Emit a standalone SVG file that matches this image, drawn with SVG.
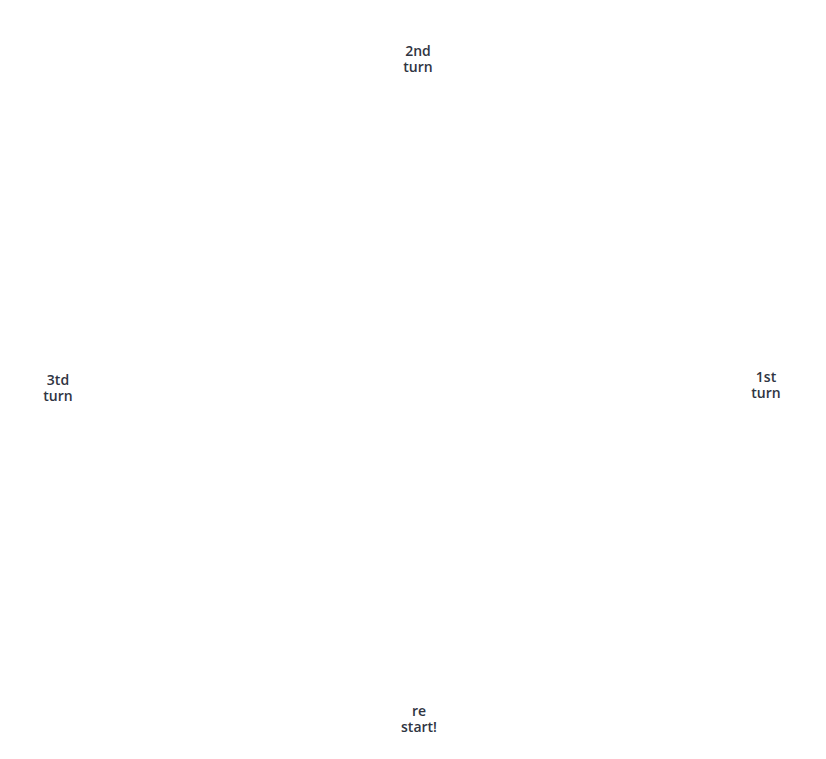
<svg xmlns="http://www.w3.org/2000/svg" width="826" height="759" viewBox="0 0 826 759">
<style>
.lbl{font-family:"Open Sans","Liberation Sans",sans-serif;font-size:14px;font-weight:600;fill:#2f3542;text-anchor:middle}
</style>
<rect width="826" height="759" fill="#ffffff"/>
<g id="node-2nd"><text class="lbl" x="418" y="56">2nd</text><text class="lbl" x="418" y="72">turn</text></g>
<g id="node-1st"><text class="lbl" x="766" y="382">1st</text><text class="lbl" x="766" y="398">turn</text></g>
<g id="node-3td"><text class="lbl" x="58" y="385">3td</text><text class="lbl" x="58" y="401">turn</text></g>
<g id="node-restart"><text class="lbl" x="419" y="716">re</text><text class="lbl" x="419" y="732">start!</text></g>
<g id="connectors"></g>
</svg>
